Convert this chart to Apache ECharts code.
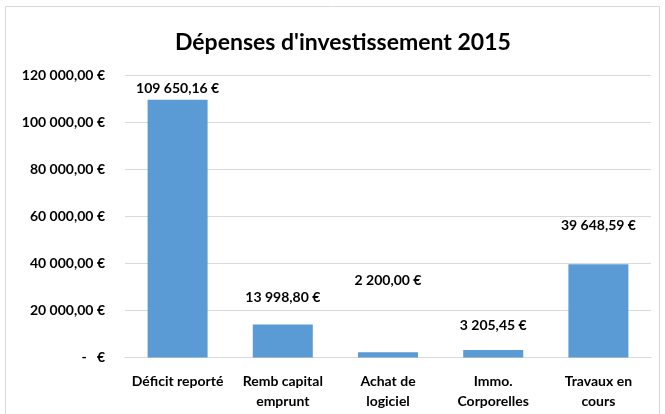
<!DOCTYPE html>
<html>
<head>
<meta charset="utf-8">
<script src="https://cdn.jsdelivr.net/npm/echarts@6/dist/echarts.min.js"></script>
<style>
  html, body { margin: 0; padding: 0; background: #fff; }
  #chart { width: 665px; height: 414px; }
</style>
</head>
<body>
<div id="chart"></div>
<script>
// données du graphique
const categories = ['Déficit reporté', 'Remb capital\nemprunt', 'Achat de\nlogiciel', 'Immo.\nCorporelles', 'Travaux en\ncours'];
const values = [109650.16, 13998.80, 2200.00, 3205.45, 39648.59];
const yTicks = [0, 20000, 40000, 60000, 80000, 100000, 120000];

// écart des étiquettes au-dessus des barres (placées à la main dans l'original)
const labelGap = [4, 20, 65, 17, 32];

const font = 'Lato, "Open Sans", sans-serif';

// 109650.16 -> "109 650,16 €"
function euro(v) {
    const parts = v.toFixed(2).split('.');
    const ent = parts[0].replace(/\B(?=(\d{3})+(?!\d))/g, ' ');
    return ent + ',' + parts[1] + ' €';
}

const chart = echarts.init(document.getElementById('chart'));

const option = {
    backgroundColor: '#ffffff',
    animation: false,
    title: {
        text: "Dépenses d'investissement 2015",
        left: 170,
        top: 26,
        textStyle: {
            fontFamily: font,
            fontSize: 23,
            fontWeight: 'bold',
            color: '#000000'
        }
    },
    graphic: [{
        type: 'rect',
        shape: { x: 5.5, y: 6.5, width: 654, height: 420 },
        style: { fill: 'none', stroke: '#d9d9d9', lineWidth: 1 },
        silent: true
    }],
    grid: {
        left: 125,
        right: 14,
        top: 75.5,
        bottom: 56.5,
        outerBoundsMode: 'none'
    },
    xAxis: {
        type: 'category',
        data: categories,
        axisTick: { show: false },
        axisLine: { show: true, lineStyle: { color: '#d9d9d9', width: 1 } },
        axisLabel: {
            interval: 0,
            margin: 14,
            fontFamily: font,
            fontSize: 14,
            fontWeight: 'bold',
            color: '#000000',
            lineHeight: 20
        }
    },
    yAxis: {
        type: 'value',
        min: yTicks[0],
        max: yTicks[yTicks.length - 1],
        interval: yTicks[1] - yTicks[0],
        axisLine: { show: false },
        axisTick: { show: false },
        splitLine: { show: true, lineStyle: { color: '#d9d9d9', width: 1 } },
        axisLabel: {
            margin: 20,
            fontFamily: font,
            fontSize: 14,
            fontWeight: 'bold',
            color: '#000000',
            formatter: function (v) {
                return v === 0 ? '-   €' : euro(v);
            }
        }
    },
    series: [{
        type: 'bar',
        barWidth: 60,
        itemStyle: { color: '#5b9bd5' },
        data: values.map(function (v, i) {
            return { value: v, label: { distance: labelGap[i] } };
        }),
        label: {
            show: true,
            position: 'top',
            fontFamily: font,
            fontSize: 14,
            fontWeight: 'bold',
            color: '#000000',
            formatter: function (p) { return euro(p.value); }
        }
    }]
};

chart.setOption(option);
</script>
</body>
</html>
